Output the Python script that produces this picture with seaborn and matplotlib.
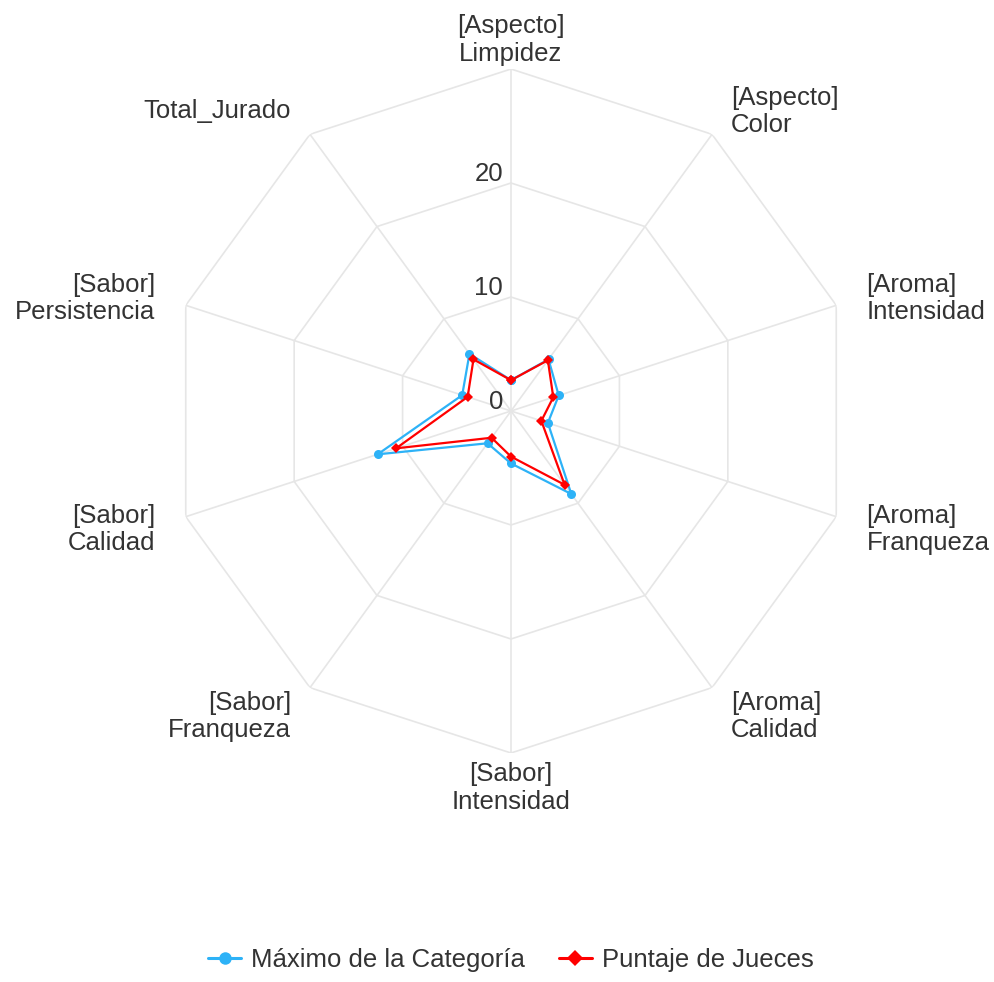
import numpy as np
import pandas as pd
import matplotlib
matplotlib.use("Agg")
import matplotlib.pyplot as plt
import matplotlib.transforms as mtransforms
from matplotlib.lines import Line2D
import seaborn as sns

categories = [
    "[Aspecto]\nLimpidez", "[Aspecto]\nColor", "[Aroma]\nIntensidad",
    "[Aroma]\nFranqueza", "[Aroma]\nCalidad", "[Sabor]\nIntensidad",
    "[Sabor]\nFranqueza", "[Sabor]\nCalidad", "[Sabor]\nPersistencia",
    "Total_Jurado",
]
maximo = [2.7, 5.6, 4.4, 3.4, 9.0, 4.6, 3.5, 12.3, 4.5, 6.2]
puntaje = [2.7, 5.5, 3.9, 2.8, 8.0, 4.0, 2.9, 10.6, 4.0, 5.6]
series_names = ["Máximo de la Categoría", "Puntaje de Jueces"]
r_ticks = [0, 10, 20]
r_rings = [10, 20, 30]
r_max = 30

sns.set_theme(style="white")
plt.rcParams["font.family"] = ["Liberation Sans", "DejaVu Sans"]

W, H = 994, 982
fig = plt.figure(figsize=(W / 100, H / 100), dpi=100)
cx, cy, rad = 511, 411, 342
ax = fig.add_axes([(cx - rad) / W, (H - cy - rad) / H, 2 * rad / W, 2 * rad / H],
                  projection="polar")
ax.set_theta_zero_location("N")
ax.set_theta_direction(-1)
ax.set_ylim(0, r_max)
ax.grid(False)
ax.spines["polar"].set_visible(False)
ax.set_xticks([])
ax.set_yticks([])
ax.set_facecolor("white")

n = len(categories)
angles = np.arange(n) * 2 * np.pi / n
closed = np.append(angles, 2 * np.pi)
grid_c = "#e6e6e6"
for rr in r_rings:
    ax.plot(closed, [rr] * (n + 1), color=grid_c, lw=1.2, zorder=1)
for a in angles:
    ax.plot([a, a], [0, r_max], color=grid_c, lw=1.2, zorder=1)

text_c = "#333333"
fs = 18.5
lab_off = mtransforms.offset_copy(ax.transData, fig=fig, x=0, y=-3, units="dots")
for a, lab in zip(angles, categories):
    s = np.sin(a)
    if abs(s) < 1e-6:
        ha = "center"
    elif s > 0:
        ha = "left"
    else:
        ha = "right"
    ax.text(a, 32.8, lab, ha=ha, va="center", multialignment=ha,
            fontsize=fs, color=text_c, linespacing=1.2, transform=lab_off)

off = mtransforms.offset_copy(ax.transData, fig=fig, x=-8, y=9, units="dots")
for t in r_ticks:
    ax.text(0, t, str(t), ha="right", va="center", fontsize=fs, color=text_c,
            transform=off)

colors = {series_names[0]: "#2DB2F7", series_names[1]: "#FF0000"}
markers = {series_names[0]: "o", series_names[1]: "D"}
rows = []
for name, vals in zip(series_names, [maximo, puntaje]):
    vv = list(vals) + [vals[0]]
    for th, v in zip(closed, vv):
        rows.append({"theta": th, "value": v, "series": name})
df = pd.DataFrame(rows)

for name, ms in zip(series_names, [6.5, 5.5]):
    sub = df[df["series"] == name]
    sns.lineplot(data=sub, x="theta", y="value", sort=False, estimator=None,
                 color=colors[name], marker=markers[name], markersize=ms,
                 markeredgewidth=0, linewidth=1.6, ax=ax, legend=False, zorder=3)
ax.set_xlabel("")
ax.set_ylabel("")
ax.set_ylim(0, r_max)

handles = [Line2D([0], [0], color=colors[nm], marker=markers[nm], markersize=ms,
                  markeredgewidth=0, lw=2.2)
           for nm, ms in zip(series_names, [9, 8])]
fig.legend(handles, series_names, loc="center", bbox_to_anchor=(511 / W, 1 - 960 / H),
           ncol=2, frameon=False, fontsize=fs, labelcolor=text_c,
           handlelength=1.3, columnspacing=1.3, handletextpad=0.4)

fig.savefig("out.png", dpi=100, facecolor="white")
